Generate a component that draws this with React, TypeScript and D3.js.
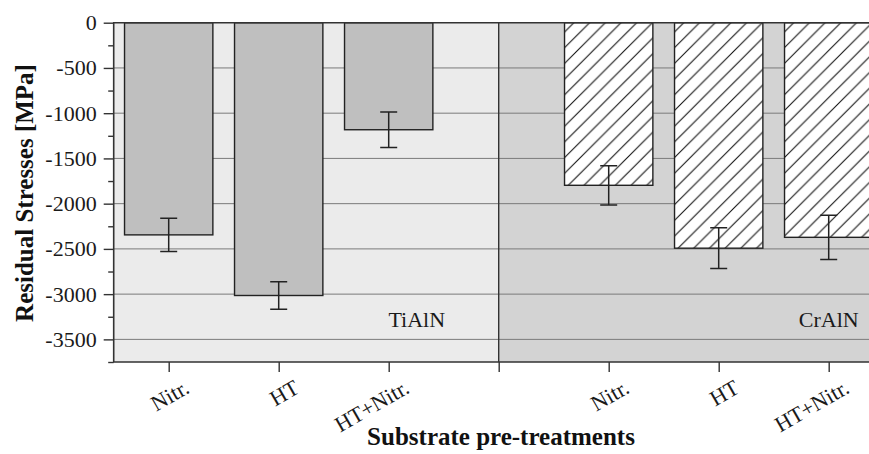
import React, {Component} from 'react';
import * as d3 from 'd3';

// coatings and pre-treatments
const coatings = ['TiAlN', 'CrAlN'];
const treatments = ['Nitr.', 'HT', 'HT+Nitr.'];

// residual stress means and error bars [MPa]
const tialnStress = [-2345, -3015, -1183];
const tialnError = [183, 151, 195];
const cralnStress = [-1797, -2492, -2372];
const cralnError = [217, 225, 245];

const yMajorTicks = [0, -500, -1000, -1500, -2000, -2500, -3000, -3500];
const yMinorTicks = [-250, -750, -1250, -1750, -2250, -2750, -3250, -3750];

class App extends Component {
    componentDidMount() {
        var W = 869, H = 454;
        var left = 113.7, top = 22.7, bottom = 362;
        var font = '"Liberation Serif", "DejaVu Serif", serif';

        var svg = d3.select('.chart_svg').attr('width', W).attr('height', H);
        var g = svg.select('.g_main');

        // 7 slots: 3 bars, divider, 3 bars
        const x = d3.scaleLinear().domain([0, 7]).range([left, left + 770]);
        const y = d3.scaleLinear().domain([-3750, 0]).range([bottom, top]);

        var rows = [];
        treatments.forEach((t, i) => rows.push({coating: coatings[0], treatment: t, slot: i + 0.5, value: tialnStress[i], err: tialnError[i]}));
        treatments.forEach((t, i) => rows.push({coating: coatings[1], treatment: t, slot: i + 4.5, value: cralnStress[i], err: cralnError[i]}));

        // hatch pattern for CrAlN
        const s = 15.7;
        const pat = svg.select('defs').selectAll('pattern').data([0]).join('pattern')
            .attr('id', 'hatch').attr('patternUnits', 'userSpaceOnUse')
            .attr('width', s).attr('height', s);
        pat.selectAll('rect').data([0]).join('rect').attr('width', s).attr('height', s).attr('fill', '#ffffff');
        pat.selectAll('path').data([0]).join('path')
            .attr('d', `M0,${s} L${s},0 M${-s / 4},${s / 4} L${s / 4},${-s / 4} M${s * 0.75},${s * 1.25} L${s * 1.25},${s * 0.75}`)
            .attr('stroke', '#111').attr('stroke-width', 1.1);

        // backgrounds of the two coating regions
        g.selectAll('.bg').data([[0, 3.5, '#ebebeb'], [3.5, 7, '#d3d3d3']]).join('rect').attr('class', 'bg')
            .attr('x', d => x(d[0])).attr('y', top)
            .attr('width', d => x(d[1]) - x(d[0])).attr('height', bottom - top)
            .attr('fill', d => d[2]);

        // grid
        g.selectAll('.grid').data(yMajorTicks.slice(1)).join('line').attr('class', 'grid')
            .attr('x1', left).attr('x2', x(7))
            .attr('y1', d => y(d)).attr('y2', d => y(d))
            .attr('stroke', '#7a7a7a').attr('stroke-width', 1);

        const barWidth = (x(1) - x(0)) * 0.803;
        g.selectAll('.bar').data(rows).join('rect').attr('class', 'bar')
            .attr('x', d => x(d.slot) - barWidth / 2)
            .attr('y', y(0))
            .attr('width', barWidth)
            .attr('height', d => y(d.value) - y(0))
            .attr('fill', d => d.coating === 'TiAlN' ? '#bfbfbf' : 'url(#hatch)')
            .attr('stroke', '#222').attr('stroke-width', 1.4);

        // error bars
        const cap = 8.5;
        g.selectAll('.err').data(rows).join('path').attr('class', 'err')
            .attr('d', d => {
                const cx = x(d.slot), y1 = y(d.value + d.err), y2 = y(d.value - d.err);
                return `M${cx - cap},${y1} H${cx + cap} M${cx},${y1} V${y2} M${cx - cap},${y2} H${cx + cap}`;
            })
            .attr('fill', 'none').attr('stroke', '#222').attr('stroke-width', 1.5);

        // divider and frame
        g.selectAll('.divider').data([3.5]).join('line').attr('class', 'divider')
            .attr('x1', d => x(d)).attr('x2', d => x(d)).attr('y1', top).attr('y2', bottom)
            .attr('stroke', '#333').attr('stroke-width', 1.4);
        g.selectAll('.frame').data([0]).join('path').attr('class', 'frame')
            .attr('d', `M${x(7)},${top} H${left} V${bottom} H${x(7)}`)
            .attr('fill', 'none').attr('stroke', '#333').attr('stroke-width', 1.6);

        // y axis
        const yAxis = g.selectAll('.y_axis_g').data([0]).join('g').attr('class', 'y_axis_g')
            .attr('transform', `translate(${left}, 0)`)
            .call(d3.axisLeft(y).tickValues(yMajorTicks).tickSize(10).tickPadding(7).tickFormat(d => String(d)));
        yAxis.attr('font-family', null).attr('font-size', null);
        yAxis.select('.domain').remove();
        yAxis.selectAll('line').attr('stroke', '#333').attr('stroke-width', 1.4);
        yAxis.selectAll('text').style('font-family', font).style('font-size', '22px').attr('fill', '#1a1a1a');

        const yMinor = g.selectAll('.y_minor_g').data([0]).join('g').attr('class', 'y_minor_g')
            .attr('transform', `translate(${left}, 0)`)
            .call(d3.axisLeft(y).tickValues(yMinorTicks).tickSize(5.5).tickFormat(() => ''));
        yMinor.select('.domain').remove();
        yMinor.selectAll('line').attr('stroke', '#333').attr('stroke-width', 1.4);

        // x axis
        const xAxis = g.selectAll('.x_axis_g').data([0]).join('g').attr('class', 'x_axis_g')
            .attr('transform', `translate(0, ${bottom})`)
            .call(d3.axisBottom(x).tickValues([0.5, 1.5, 2.5, 3.5, 4.5, 5.5, 6.5]).tickSize(10).tickFormat(() => ''));
        xAxis.select('.domain').remove();
        xAxis.selectAll('line').attr('stroke', '#333').attr('stroke-width', 1.4);

        g.selectAll('.xlabel').data(rows).join('text').attr('class', 'xlabel')
            .attr('transform', d => `translate(${x(d.slot) + 22}, 392) rotate(-30)`)
            .attr('text-anchor', 'end')
            .style('font-family', font).style('font-size', '22px').attr('fill', '#1a1a1a')
            .text(d => d.treatment);

        // coating labels
        g.selectAll('.clabel').data([[2.755, coatings[0]], [6.5, coatings[1]]]).join('text').attr('class', 'clabel')
            .attr('x', d => x(d[0])).attr('y', 327)
            .attr('text-anchor', 'middle')
            .style('font-family', font).style('font-size', '22px').attr('fill', '#1a1a1a')
            .text(d => d[1]);

        // axis titles
        d3.select('.xtitle').attr('x', 501).attr('y', 445).attr('text-anchor', 'middle')
            .style('font-family', font).style('font-size', '25px').style('font-weight', 'bold').attr('fill', '#111');
        d3.select('.ytitle').attr('transform', 'translate(33, 193) rotate(-90)').attr('text-anchor', 'middle')
            .style('font-family', font).style('font-size', '25px').style('font-weight', 'bold').attr('fill', '#111');
    }
    render() {
        return <div>
            <style>{'body{margin:0;}'}</style>
            <svg className="chart_svg" style={{display: 'block', background: '#ffffff'}}>
                <defs></defs>
                <g className="g_main"></g>
                <text className="xtitle">Substrate pre-treatments</text>
                <text className="ytitle">Residual Stresses [MPa]</text>
            </svg>
        </div>;
    }
}
export default App;
